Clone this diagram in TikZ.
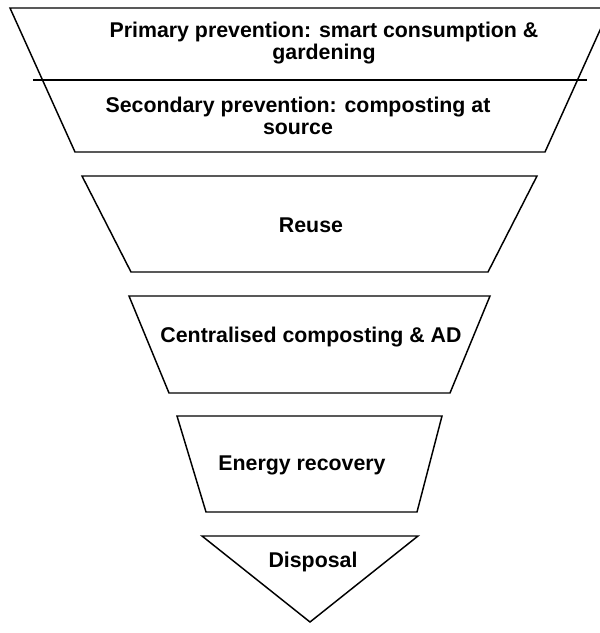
\documentclass[tikz,border=0pt]{standalone}
\usepackage{fontspec}
\setmainfont{Liberation Sans}
\begin{document}
\begin{tikzpicture}[x=0.75pt,y=-0.75pt,
  shapeline/.style={draw=black, line width=1.1pt, line join=miter},
  lbl/.style={font=\fontsize{16}{16.5}\selectfont\bfseries, align=center, inner sep=0pt}]
\useasboundingbox (0,0) rectangle (600,633);
\clip (0,0) rectangle (600,633);
% shapes
\draw[shapeline] (10,8) -- (610,8) -- (545,152) -- (75,152) -- cycle;
\draw[shapeline] (33,80) -- (587,80);
\draw[shapeline] (82,176) -- (537,176) -- (488,272) -- (131,272) -- cycle;
\draw[shapeline] (129,296) -- (490,296) -- (450,393) -- (169,393) -- cycle;
\draw[shapeline] (177,416) -- (442,416) -- (417,512) -- (206,512) -- cycle;
\draw[shapeline] (202,536) -- (418,536) -- (310,622) -- cycle;
% labels
\node[lbl, anchor=base] (primary) at (324,59) {Primary prevention: smart consumption \&\\gardening};
\node[lbl, anchor=base] (secondary) at (298,134) {Secondary prevention: composting at\\source};
\node[lbl, anchor=base] (reuse) at (311,232) {Reuse};
\node[lbl, anchor=base] (central) at (311,342) {Centralised composting \& AD};
\node[lbl, anchor=base] (energy) at (302,470) {Energy recovery};
\node[lbl, anchor=base] (disposal) at (313,567) {Disposal};
\end{tikzpicture}
\end{document}
